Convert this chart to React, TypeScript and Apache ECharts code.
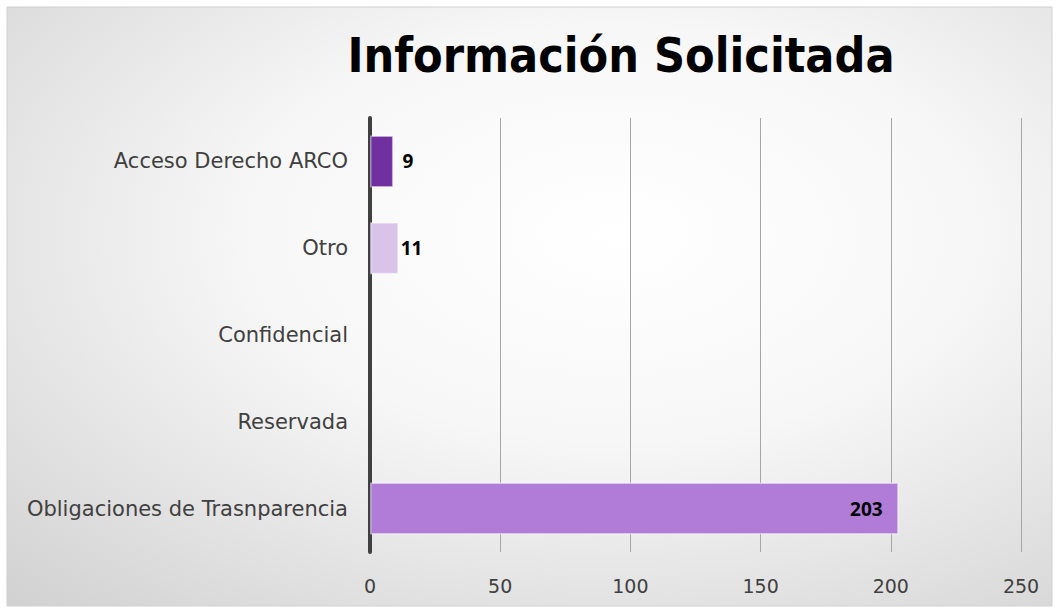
import React, { useEffect, useRef } from "react";
import * as echarts from "echarts";

const categories = [
  "Obligaciones de Trasnparencia",
  "Reservada",
  "Confidencial",
  "Otro",
  "Acceso Derecho ARCO",
];
const values = [203, 0, 0, 11, 9];
const barColors = ["#b07cd8", "#b07cd8", "#b07cd8", "#d9c3e9", "#7030a0"];
const labelGaps = [16, 0, 0, 2, 9];
const xTicks = [0, 50, 100, 150, 200, 250];
const titleText = "Información Solicitada";

export default function App() {
  const ref = useRef<HTMLDivElement>(null);
  useEffect(() => {
    const chart = echarts.init(ref.current!, null, { renderer: "svg" });
    chart.setOption({
      animation: false,
      backgroundColor: "#ffffff",
      graphic: [
        {
          type: "rect",
          z: -10,
          silent: true,
          shape: { x: 7, y: 7, width: 1045, height: 599 },
          style: {
            fill: new echarts.graphic.RadialGradient(0.58, 0.38, 1.15, [
              { offset: 0, color: "#ffffff" },
              { offset: 0.3, color: "#f7f7f7" },
              { offset: 1, color: "#bababa" },
            ]),
            stroke: "#d0d0d0",
            lineWidth: 1,
          },
        },
      ],
      title: {
        text: titleText,
        left: 616,
        top: 26,
        textAlign: "center",
        textStyle: {
          fontFamily: "DejaVu Sans Condensed",
          fontWeight: "bold",
          fontSize: 48,
          color: "#000000",
        },
      },
      grid: { left: 370, right: 37, top: 118, bottom: 59 },
      xAxis: {
        type: "value",
        min: xTicks[0],
        max: xTicks[xTicks.length - 1],
        interval: 50,
        axisLine: { show: false },
        axisTick: { show: false },
        splitLine: { show: true, lineStyle: { color: "#a6a6a6", width: 1 } },
        axisLabel: {
          color: "#404040",
          fontSize: 19,
          fontFamily: "DejaVu Sans",
          margin: 24,
        },
      },
      yAxis: {
        type: "category",
        data: categories,
        axisLine: { show: true, lineStyle: { color: "#404040", width: 4 } },
        axisTick: { show: false },
        axisLabel: {
          color: "#404040",
          fontSize: 21,
          fontFamily: "DejaVu Sans",
          margin: 22,
        },
      },
      series: [
        {
          type: "bar",
          barWidth: 52,
          data: values.map((v, i) => ({
            value: v,
            itemStyle: {
              color: barColors[i],
              borderWidth: v ? 1.5 : 0,
            },
            label:
              v > 100
                ? { position: "insideRight", distance: labelGaps[i] }
                : { position: "right", distance: labelGaps[i] },
          })),
          itemStyle: { borderColor: "rgba(255,255,255,0.45)" },
          label: {
            show: true,
            color: "#000000",
            fontWeight: "bold",
            fontSize: 19,
            fontFamily: "Open Sans",
            formatter: (p: any) => (p.value ? String(p.value) : ""),
          },
        },
      ],
    });
    return () => chart.dispose();
  }, []);
  return (
    <div
      ref={ref}
      style={{ position: "absolute", left: 0, top: 0, width: 1058, height: 611 }}
    />
  );
}
